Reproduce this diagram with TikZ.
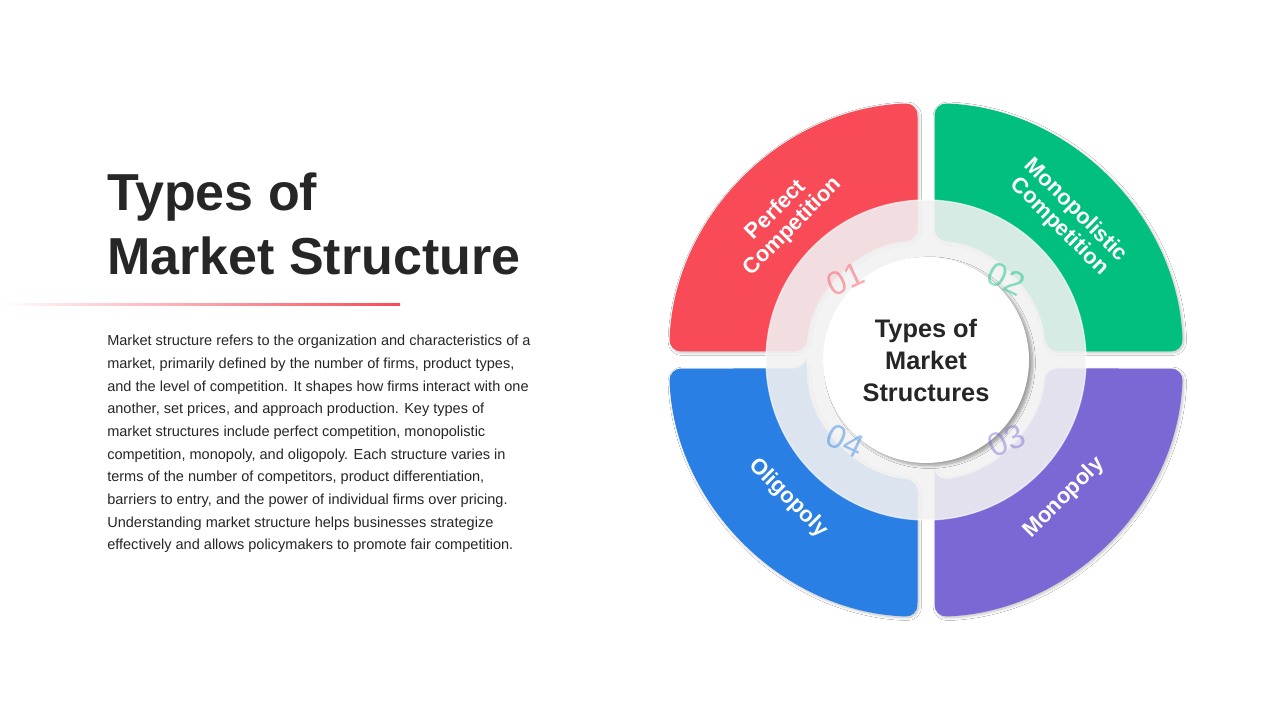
\documentclass[tikz,border=0pt]{standalone}
\usepackage{fontspec}
\setmainfont{Liberation Sans}
\usetikzlibrary{shadows.blur}
\definecolor{cred}{HTML}{F94A57}
\definecolor{cgreen}{HTML}{00BF7F}
\definecolor{cpurple}{HTML}{7B68D4}
\definecolor{cblue}{HTML}{2A7FE5}
\definecolor{dark}{HTML}{262626}
\begin{document}
\begin{tikzpicture}[x=0.75pt,y=0.75pt,
  quad/.style={rounded corners=9pt,blur shadow={shadow blur steps=6,shadow xshift=1pt,shadow yshift=-1pt,shadow opacity=25}},
  lab/.style={text=white,font=\bfseries\fontsize{16.5}{17.5}\selectfont,align=center},
  num/.style={font=\fontsize{25}{25}\selectfont,opacity=0.45}]
\useasboundingbox (0,0) rectangle (1280,720);
\fill[white] (0,0) rectangle (1280,720);
% title
\node[anchor=north west,align=left,text=dark,font=\bfseries\fontsize{39}{47.5}\selectfont,inner sep=0] (title) at (107,547) {Types of\\Market Structure};
\shade[left color=white,right color=cred] (0,414) rectangle (400,416);
\node[anchor=north west,align=left,text=dark,font=\fontsize{10.9}{17}\selectfont,inner sep=0] (para) at (107,385) {Market structure refers to the organization and characteristics of a\\market, primarily defined by the number of firms, product types,\\and the level of competition. It shapes how firms interact with one\\another, set prices, and approach production. Key types of\\market structures include perfect competition, monopolistic\\competition, monopoly, and oligopoly. Each structure varies in\\terms of the number of competitors, product differentiation,\\barriers to entry, and the power of individual firms over pricing.\\Understanding market structure helps businesses strategize\\effectively and allows policymakers to promote fair competition.};
% quadrants
\coordinate (c) at (926,360);
\foreach \col/\rot in {cred/0,cgreen/-90,cpurple/-180,cblue/-270}{
  \begin{scope}[shift={(c)},rotate=\rot]
  \fill[\col,quad] (94.06:120) -- (91.9:257) arc[start angle=91.9,end angle=178.1,radius=257] -- (175.94:120) arc[start angle=175.94,end angle=94.06,radius=120] -- cycle;
  \end{scope}
}
% ring
\fill[white,opacity=0.72] (c) circle[radius=160];
\fill[white!92!black,opacity=0.6] (c) circle[radius=160];
\draw[white,opacity=0.6,line width=1pt] (c) circle[radius=160];
\node[circle,fill=white,minimum size=154.5pt,inner sep=0,blur shadow={shadow blur steps=8,shadow yshift=-2pt,shadow opacity=35}] (center) at (c) {};
\node[align=center,text=dark,font=\bfseries\fontsize{19}{24}\selectfont] (ctext) at (c) {Types of\\Market\\Structures};
% labels
\node[lab,rotate=45] (l1) at ([shift={(135:200)}]c) {Perfect\\Competition};
\node[lab,rotate=-45] (l2) at ([shift={(45:200)}]c) {Monopolistic\\Competition};
\node[lab,rotate=45] (l3) at ([shift={(-45:195)}]c) {Monopoly};
\node[lab,rotate=-45] (l4) at ([shift={(-135:195)}]c) {Oligopoly};
\node[num,text=cred,rotate=25] (n1) at ([shift={(135:114)}]c) {01};
\node[num,text=cgreen,rotate=-25] (n2) at ([shift={(45:114)}]c) {02};
\node[num,text=cpurple,rotate=25] (n3) at ([shift={(-45:114)}]c) {03};
\node[num,text=cblue,rotate=-25] (n4) at ([shift={(-135:114)}]c) {04};
\end{tikzpicture}
\end{document}
